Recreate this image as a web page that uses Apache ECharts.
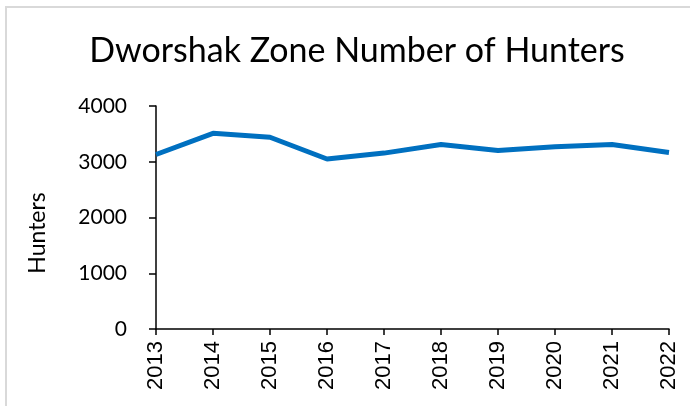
<!DOCTYPE html>
<html>

<head>
  <meta charset="UTF-8">
  <title>Dworshak Zone Number of Hunters</title>
  <style>
    html, body { margin: 0; padding: 0; background: #fff; }
  </style>
</head>

<body>
  <div id="main" style="width: 690px; height: 406px;"></div>
  <script src="https://cdn.jsdelivr.net/npm/echarts@6/dist/echarts.min.js"></script>
  <script>
    // Values
    const years = ['2013', '2014', '2015', '2016', '2017', '2018', '2019', '2020', '2021', '2022'];
    const hunters = [3130, 3510, 3440, 3050, 3155, 3310, 3200, 3270, 3310, 3165];
    const yTicks = [0, 1000, 2000, 3000, 4000];

    const chartDom = document.getElementById('main');
    const myChart = echarts.init(chartDom);
    const option = {
      animation: false,
      graphic: [{
        type: 'polyline',
        shape: { points: [[6, 406], [6, 7], [690, 7]] },
        style: { stroke: '#d9d9d9', lineWidth: 2, fill: null }
      }, {
        // y axis title, placed a bit below the axis middle like the original
        type: 'text',
        x: 38,
        y: 233,
        rotation: Math.PI / 2,
        style: {
          text: 'Hunters',
          fontFamily: 'Lato',
          fontSize: 23,
          fill: '#000',
          textAlign: 'center',
          textVerticalAlign: 'middle'
        }
      }],
      title: {
        text: 'Dworshak Zone Number of Hunters',
        left: 352,
        top: 29,
        textAlign: 'center',
        textStyle: { fontFamily: 'Lato', fontWeight: 'normal', fontSize: 34, color: '#000' }
      },
      grid: { left: 156, right: 21, top: 106, bottom: 77 },
      xAxis: {
        type: 'category',
        data: years,
        boundaryGap: false,
        axisLine: { lineStyle: { color: '#000', width: 1.5 } },
        axisTick: { alignWithLabel: true, length: 6, lineStyle: { color: '#000', width: 1.5 } },
        axisLabel: { rotate: 90, margin: 12, fontFamily: 'Liberation Sans', fontSize: 22, color: '#000' }
      },
      yAxis: {
        type: 'value',
        min: yTicks[0],
        max: yTicks[yTicks.length - 1],
        interval: 1000,
        splitLine: { show: false },
        axisLine: { show: true, lineStyle: { color: '#000', width: 1.5 } },
        axisTick: { show: true, length: 7, lineStyle: { color: '#000', width: 1.5 } },
        axisLabel: {
          margin: 29,
          fontFamily: 'Lato',
          fontSize: 21,
          color: '#000',
          formatter: (v) => String(v)
        }
      },
      series: [{
        type: 'line',
        data: hunters,
        symbol: 'none',
        lineStyle: { color: '#0070C0', width: 5 }
      }]
    };

    myChart.setOption(option);
  </script>
</body>

</html>
